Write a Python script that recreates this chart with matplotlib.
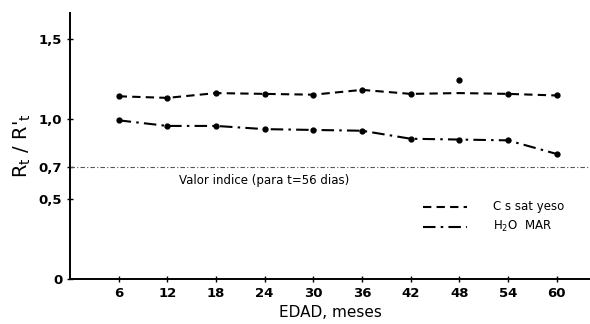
import matplotlib.pyplot as plt

# edad en meses
edad = [6, 12, 18, 24, 30, 36, 42, 48, 54, 60]

# curva C s sat yeso (trazo) y puntos medidos
yeso_curva = [1.14, 1.13, 1.16, 1.155, 1.15, 1.18, 1.155, 1.16, 1.155, 1.145]
yeso_puntos = [1.14, 1.13, 1.16, 1.155, 1.15, 1.18, 1.155, 1.24, 1.155, 1.145]

# curva H2O MAR
mar = [0.99, 0.955, 0.955, 0.935, 0.93, 0.925, 0.875, 0.87, 0.865, 0.78]

valor_indice = 0.7
yticks = [0, 0.5, 0.7, 1.0, 1.5]
ytick_labels = ['0', '0,5', '0,7', '1,0', '1,5']

fig = plt.figure(figsize=(5.9, 3.24), dpi=100)
ax = fig.add_axes([0.1186, 0.139, 0.8814, 0.821])

ax.plot(edad, yeso_curva, color='black', lw=1.5, linestyle=(0, (4, 2.5)))
ax.plot(edad, yeso_puntos, 'o', color='black', ms=3.5)
ax.plot(edad, mar, color='black', lw=1.5, linestyle=(0, (6, 2.5, 1.2, 2.5)))
ax.plot(edad, mar, 'o', color='black', ms=3.5)

ax.axhline(valor_indice, color='#555555', lw=0.8, linestyle=(0, (4, 2, 1, 2)))
ax.text(13.5, 0.655, 'Valor indice (para t=56 dias)', fontsize=8.5, va='top',
        ha='left', fontweight='medium')

# leyenda dibujada a mano
ax.plot([43.5, 49], [0.45, 0.45], color='black', lw=1.5, linestyle=(0, (4, 2.5)))
ax.text(52.2, 0.45, 'C s sat yeso', fontsize=8.5, va='center')
ax.plot([43.5, 49], [0.325, 0.325], color='black', lw=1.5, linestyle=(0, (6, 2.5, 1.2, 2.5)))
ax.text(52.2, 0.325, r'H$_\mathregular{2}$O  MAR', fontsize=8.5, va='center')

ax.set_xlim(0, 64.1)
ax.set_ylim(0, 1.66)
ax.set_xticks(edad)
ax.set_yticks(yticks)
ax.set_yticklabels(ytick_labels)
ax.tick_params(labelsize=9.5, direction='inout', length=4, width=1)
for lbl in ax.get_xticklabels() + ax.get_yticklabels():
    lbl.set_fontweight('bold')

for s in ['top', 'right']:
    ax.spines[s].set_visible(False)
for s in ['left', 'bottom']:
    ax.spines[s].set_linewidth(1.4)

ax.set_xlabel('EDAD, meses', fontsize=11, labelpad=4)
ax.set_ylabel(r"R$_\mathregular{t}$ / R$'_\mathregular{t}$", fontsize=14, labelpad=4)

fig.savefig('out.png', dpi=100)
